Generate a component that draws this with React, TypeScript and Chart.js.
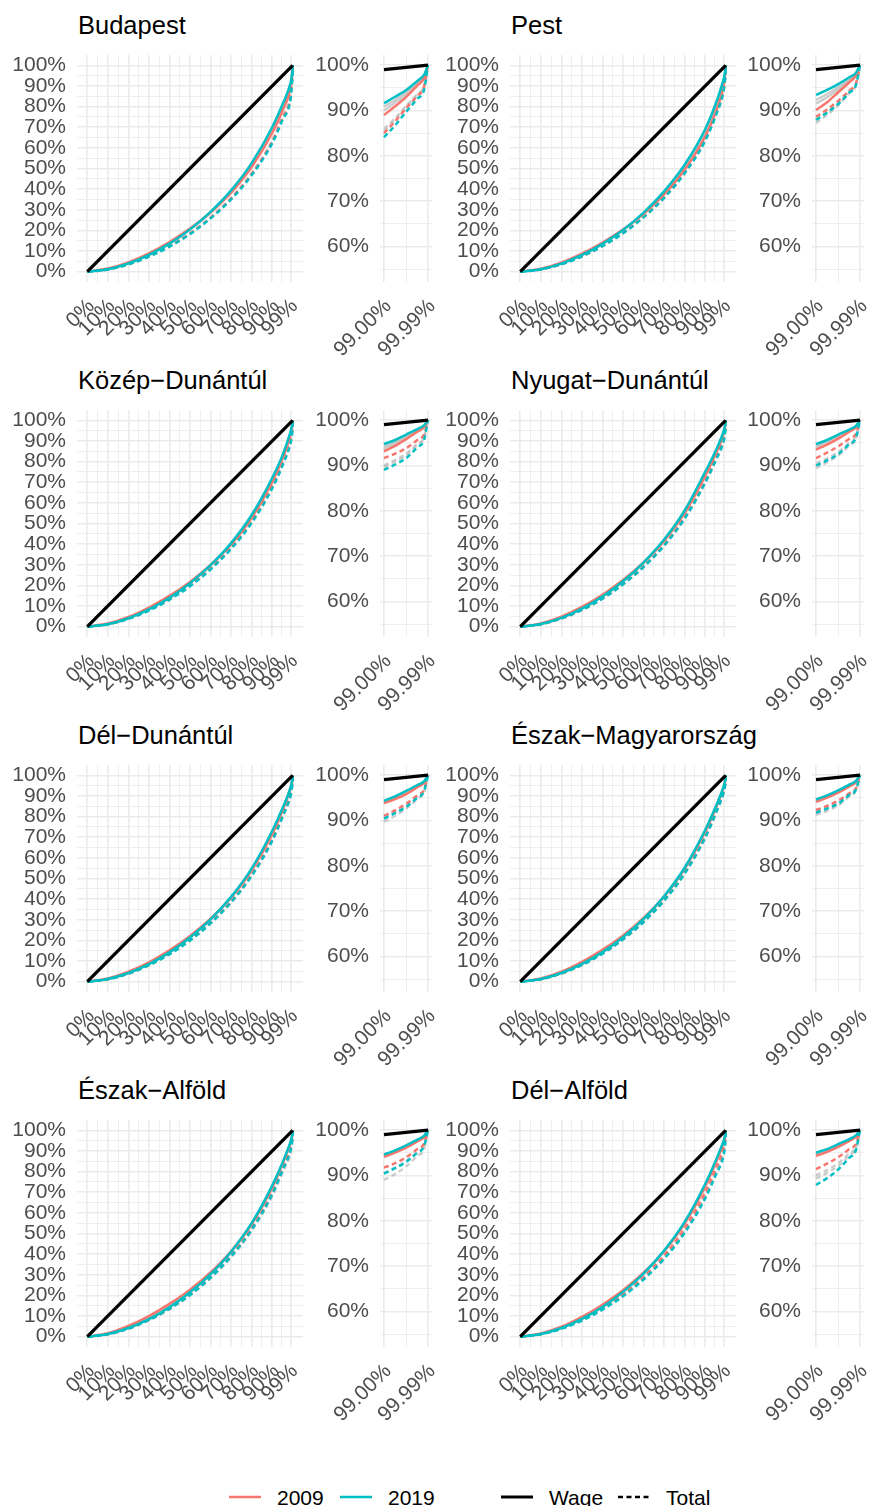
import React, { useEffect, useRef } from "react";
import { Chart, registerables } from "chart.js";

Chart.register(...registerables);

// ---------------- DATA ----------------
const REGIONS = [
  "Budapest",
  "Pest",
  "Közép−Dunántúl",
  "Nyugat−Dunántúl",
  "Dél−Dunántúl",
  "Észak−Magyarország",
  "Észak−Alföld",
  "Dél−Alföld",
];

// population share (x) at which every curve below is read
const PCT = [0, 0.1, 0.2, 0.3, 0.4, 0.5, 0.6, 0.7, 0.8, 0.9, 0.95, 0.99, 0.9925, 0.995, 0.9975, 0.999, 0.9999];

const WAGE_2009 = [
  [0, .015, .045, .089, .144, .209, .287, .383, .507, .672, .78, .890, .909, .930, .955, .971, 1],
  [0, .014, .044, .087, .141, .204, .280, .374, .494, .655, .77, .901, .918, .940, .962, .977, 1],
  [0, .015, .047, .093, .149, .217, .299, .399, .528, .70, .815, .931, .943, .958, .974, .984, 1],
  [0, .016, .049, .096, .155, .226, .311, .416, .550, .73, .835, .935, .946, .959, .974, .984, 1],
  [0, .015, .048, .094, .152, .222, .305, .408, .539, .715, .828, .938, .947, .958, .973, .983, 1],
  [0, .015, .048, .096, .154, .224, .309, .413, .547, .725, .838, .941, .950, .961, .975, .984, 1],
  [0, .017, .052, .100, .159, .228, .311, .414, .545, .722, .836, .941, .950, .961, .975, .984, 1],
  [0, .015, .048, .096, .155, .225, .310, .414, .548, .727, .84, .943, .952, .963, .976, .985, 1],
];

const WAGE_2019 = [
  [0, .012, .040, .082, .136, .205, .290, .394, .526, .70, .81, .916, .930, .945, .965, .978, 1],
  [0, .012, .039, .081, .135, .202, .286, .389, .518, .69, .81, .934, .945, .958, .973, .983, 1],
  [0, .012, .041, .084, .140, .211, .298, .405, .541, .72, .83, .947, .956, .968, .980, .988, 1],
  [0, .013, .043, .088, .146, .220, .311, .422, .563, .75, .85, .947, .956, .968, .979, .987, 1],
  [0, .013, .042, .085, .142, .214, .302, .411, .548, .73, .84, .943, .953, .965, .978, .986, 1],
  [0, .013, .042, .086, .143, .215, .304, .414, .552, .735, .845, .946, .955, .966, .979, .987, 1],
  [0, .013, .042, .085, .143, .215, .303, .412, .550, .732, .843, .946, .955, .966, .979, .987, 1],
  [0, .013, .042, .086, .144, .217, .306, .417, .556, .74, .85, .950, .958, .969, .980, .988, 1],
];

const TOTAL_2009 = [
  [0, .011, .036, .074, .123, .185, .261, .355, .473, .63, .745, .850, .876, .905, .932, .952, 1],
  [0, .011, .036, .075, .125, .188, .265, .360, .481, .64, .76, .886, .902, .921, .944, .960, 1],
  [0, .012, .039, .080, .134, .201, .284, .386, .514, .685, .80, .916, .926, .938, .956, .968, 1],
  [0, .012, .040, .082, .137, .207, .292, .397, .530, .705, .815, .916, .928, .942, .959, .970, 1],
  [0, .012, .039, .081, .135, .202, .286, .389, .518, .69, .805, .910, .922, .937, .955, .968, 1],
  [0, .012, .040, .082, .137, .206, .291, .396, .528, .703, .818, .923, .932, .944, .960, .971, 1],
  [0, .012, .040, .082, .136, .205, .290, .394, .526, .70, .815, .917, .927, .940, .958, .970, 1],
  [0, .012, .040, .081, .136, .205, .289, .393, .524, .698, .812, .914, .926, .940, .958, .970, 1],
];

const TOTAL_2019 = [
  [0, .011, .035, .073, .121, .182, .258, .350, .467, .622, .735, .841, .867, .897, .926, .945, 1],
  [0, .011, .036, .074, .124, .186, .263, .358, .477, .635, .752, .879, .895, .914, .939, .956, 1],
  [0, .012, .038, .078, .131, .196, .277, .377, .503, .67, .78, .890, .902, .916, .940, .956, 1],
  [0, .012, .040, .081, .136, .205, .289, .393, .524, .698, .803, .900, .911, .925, .947, .961, 1],
  [0, .012, .039, .080, .133, .200, .283, .385, .513, .683, .798, .904, .916, .930, .950, .964, 1],
  [0, .012, .040, .081, .136, .205, .289, .393, .524, .698, .812, .917, .926, .937, .956, .968, 1],
  [0, .012, .039, .081, .135, .202, .286, .389, .518, .69, .805, .904, .916, .930, .950, .964, 1],
  [0, .012, .038, .078, .131, .196, .277, .377, .503, .67, .78, .879, .894, .913, .939, .956, 1],
];

// two of the grey in-between years, per type
const GRAY_WAGE_A = [
  [0, .013, .042, .086, .140, .207, .288, .389, .516, .686, .795, .900, .917, .936, .958, .973, 1],
  [0, .013, .042, .084, .137, .203, .282, .380, .505, .671, .788, .915, .929, .946, .966, .979, 1],
  [0, .014, .044, .088, .145, .214, .298, .402, .534, .71, .822, .936, .948, .962, .976, .985, 1],
  [0, .014, .046, .092, .151, .223, .311, .419, .557, .74, .843, .940, .950, .963, .976, .985, 1],
  [0, .014, .045, .090, .147, .218, .303, .409, .543, .722, .834, .939, .949, .961, .975, .984, 1],
  [0, .014, .045, .091, .149, .220, .307, .413, .549, .73, .841, .943, .952, .963, .976, .985, 1],
  [0, .014, .045, .090, .148, .219, .305, .411, .546, .726, .839, .943, .952, .963, .976, .985, 1],
  [0, .014, .045, .091, .149, .220, .307, .415, .550, .732, .844, .944, .953, .964, .977, .986, 1],
];

const GRAY_WAGE_B = [
  [0, .012, .039, .081, .135, .203, .287, .390, .520, .693, .802, .908, .923, .941, .961, .975, 1],
  [0, .012, .039, .079, .133, .200, .282, .383, .511, .681, .80, .923, .936, .951, .969, .981, 1],
  [0, .012, .041, .083, .139, .210, .296, .403, .537, .715, .826, .941, .952, .965, .978, .987, 1],
  [0, .013, .042, .087, .145, .218, .308, .419, .560, .745, .847, .944, .954, .966, .978, .986, 1],
  [0, .012, .041, .085, .142, .213, .301, .409, .545, .726, .837, .941, .951, .963, .976, .985, 1],
  [0, .013, .042, .085, .143, .215, .303, .412, .550, .732, .843, .945, .954, .965, .978, .986, 1],
  [0, .013, .042, .085, .142, .214, .302, .410, .548, .729, .841, .945, .954, .965, .978, .986, 1],
  [0, .013, .042, .086, .143, .216, .305, .414, .553, .736, .847, .947, .956, .967, .979, .987, 1],
];

const GRAY_TOTAL_A = [
  [0, .011, .036, .074, .124, .187, .264, .359, .478, .637, .752, .860, .883, .910, .936, .954, 1],
  [0, .011, .036, .074, .124, .186, .263, .357, .476, .634, .752, .872, .890, .911, .938, .956, 1],
  [0, .012, .039, .079, .132, .198, .280, .381, .508, .677, .79, .900, .912, .926, .948, .962, 1],
  [0, .012, .040, .081, .136, .204, .288, .391, .522, .695, .80, .894, .907, .922, .944, .959, 1],
  [0, .012, .039, .079, .133, .199, .282, .383, .511, .68, .795, .897, .910, .926, .947, .962, 1],
  [0, .012, .040, .081, .136, .204, .288, .391, .522, .695, .808, .912, .921, .933, .953, .966, 1],
  [0, .012, .039, .079, .133, .199, .282, .383, .511, .68, .793, .890, .903, .920, .943, .958, 1],
  [0, .012, .039, .080, .133, .200, .283, .385, .513, .683, .797, .900, .912, .927, .949, .963, 1],
];

const GRAY_TOTAL_B = [
  [0, .011, .036, .074, .123, .185, .261, .355, .474, .631, .747, .855, .879, .908, .935, .953, 1],
  [0, .011, .036, .074, .124, .187, .264, .359, .479, .638, .757, .880, .897, .917, .942, .958, 1],
  [0, .012, .038, .079, .131, .198, .279, .380, .506, .674, .786, .896, .908, .922, .945, .960, 1],
  [0, .012, .040, .082, .137, .206, .291, .395, .527, .702, .81, .905, .916, .930, .950, .964, 1],
  [0, .012, .039, .080, .134, .202, .285, .387, .517, .688, .803, .908, .920, .934, .953, .966, 1],
  [0, .012, .040, .082, .137, .205, .290, .395, .527, .701, .815, .920, .929, .940, .957, .969, 1],
  [0, .012, .040, .081, .136, .204, .288, .391, .522, .695, .81, .905, .917, .932, .952, .965, 1],
  [0, .012, .039, .079, .133, .200, .282, .383, .511, .681, .795, .893, .906, .921, .944, .960, 1],
];

// tick breaks and labels
const MAIN_X_TICKS = [0, 0.1, 0.2, 0.3, 0.4, 0.5, 0.6, 0.7, 0.8, 0.9, 0.99];
const MAIN_X_LABELS = ["0%", "10%", "20%", "30%", "40%", "50%", "60%", "70%", "80%", "90%", "99%"];
const MAIN_Y_TICKS = [0, 0.1, 0.2, 0.3, 0.4, 0.5, 0.6, 0.7, 0.8, 0.9, 1];
const MAIN_Y_LABELS = ["0%", "10%", "20%", "30%", "40%", "50%", "60%", "70%", "80%", "90%", "100%"];
const INSET_X_TICKS = [0.99, 0.9999];
const INSET_X_LABELS = ["99.00%", "99.99%"];
const INSET_Y_TICKS = [0.6, 0.7, 0.8, 0.9, 1];
const INSET_Y_LABELS = ["60%", "70%", "80%", "90%", "100%"];

const LEGEND_YEARS = ["2009", "2019"];
const LEGEND_TYPES = ["Wage", "Total"];

// ---------------- STYLE ----------------
const RED = "#F8766D";
const TEAL = "#00BFC4";
const GRAY = "rgba(185,185,185,0.75)";
const GRID = "#EBEBEB";
const FONT = "'Liberation Sans', Arial, Helvetica, sans-serif";
const TICK_FONT = { family: FONT, size: 21 };
const TICK_COLOR = "#4D4D4D";
const DASH = [5, 3.5];

const ROW_H = 355;
const COL_W = 432.5;

function withMinor(majors: number[], extraLow?: number) {
  const mids = majors.slice(1).map((v, i) => (v + majors[i]) / 2);
  const all = majors.map((v) => ({ v, major: true })).concat(mids.map((v) => ({ v, major: false })));
  if (extraLow !== undefined) all.push({ v: extraLow, major: false });
  return all.sort((a, b) => a.v - b.v);
}

function makeAxis(
  majors: number[],
  labels: string[],
  min: number,
  max: number,
  isX: boolean,
  size: number,
  extraLow?: number
) {
  const all = withMinor(majors, extraLow);
  const isMajor = (v: number) => majors.some((m) => Math.abs(m - v) < 1e-9);
  return {
    type: "linear",
    min,
    max,
    afterBuildTicks: (s: any) => {
      s.ticks = all.map((t) => ({ value: t.v }));
    },
    afterFit: (s: any) => {
      if (isX) s.height = size;
      else s.width = size;
      s.paddingLeft = 0;
      s.paddingRight = 0;
      s.paddingTop = 0;
      s.paddingBottom = 0;
    },
    ticks: {
      autoSkip: false,
      maxRotation: isX ? 45 : 0,
      minRotation: isX ? 45 : 0,
      padding: isX ? 12 : 11,
      labelOffset: isX ? 4 : 0,
      color: TICK_COLOR,
      font: TICK_FONT,
      callback: (v: number) => {
        const i = majors.findIndex((m) => Math.abs(m - v) < 1e-9);
        return i >= 0 ? labels[i] : "";
      },
    },
    grid: {
      color: GRID,
      drawTicks: false,
      lineWidth: (ctx: any) => (ctx.tick && isMajor(ctx.tick.value) ? 1.6 : 0.8),
    },
    border: { display: false },
  };
}

function buildDatasets(r: number, inset: boolean) {
  const lo = inset ? INSET_X_TICKS[0] : PCT[0];
  const hi = PCT[PCT.length - 1];
  const pts = (vals: number[]) =>
    PCT.map((x, i) => ({ x, y: vals[i] })).filter((p) => p.x >= lo - 1e-9);
  const line = (vals: number[], color: string, dashed: boolean, width: number) => ({
    data: pts(vals),
    borderColor: color,
    backgroundColor: color,
    borderWidth: width,
    borderDash: dashed ? DASH : [],
    pointRadius: 0,
    fill: false,
    cubicInterpolationMode: "monotone",
  });
  return [
    {
      data: [
        { x: lo, y: lo },
        { x: hi, y: hi },
      ],
      borderColor: "#000000",
      borderWidth: 3.3,
      pointRadius: 0,
      fill: false,
    },
    line(WAGE_2019[r], TEAL, false, 2.5),
    line(TOTAL_2019[r], TEAL, true, 2.5),
    line(WAGE_2009[r], RED, false, 2.5),
    line(TOTAL_2009[r], RED, true, 2.5),
    line(GRAY_WAGE_A[r], GRAY, false, 2.3),
    line(GRAY_WAGE_B[r], GRAY, false, 2.3),
    line(GRAY_TOTAL_A[r], GRAY, true, 2.3),
    line(GRAY_TOTAL_B[r], GRAY, true, 2.3),
  ];
}

function PanelChart(props: { r: number; inset: boolean; left: number; top: number; width: number; height: number }) {
  const ref = useRef<HTMLCanvasElement | null>(null);
  const { r, inset, left, top, width, height } = props;
  useEffect(() => {
    if (!ref.current) return;
    const xAxis = inset
      ? makeAxis(INSET_X_TICKS, INSET_X_LABELS, 0.9891, 1.0008, true, 73)
      : makeAxis(MAIN_X_TICKS, MAIN_X_LABELS, -0.05, 1.05, true, 73);
    const yAxis = inset
      ? makeAxis(INSET_Y_TICKS, INSET_Y_LABELS, 0.5223, 1.022, false, 70, 0.55)
      : makeAxis(MAIN_Y_TICKS, MAIN_Y_LABELS, -0.05, 1.05, false, 77);
    const chart = new Chart(ref.current, {
      type: "line",
      data: { datasets: buildDatasets(r, inset) as any },
      options: {
        responsive: false,
        animation: false,
        devicePixelRatio: 1,
        layout: { autoPadding: false, padding: { top: 55, left: 0, right: inset ? 7 : 0, bottom: 0 } },
        plugins: { legend: { display: false }, tooltip: { enabled: false }, title: { display: false } },
        scales: { x: xAxis as any, y: yAxis as any },
      } as any,
    });
    return () => chart.destroy();
  }, [r, inset]);
  return (
    <canvas
      ref={ref}
      width={width}
      height={height}
      style={{ position: "absolute", left, top, width, height }}
    />
  );
}

export default function App() {
  const panels: React.ReactNode[] = [];
  REGIONS.forEach((name, r) => {
    const row = Math.floor(r / 2);
    const col = r % 2;
    const top = row * ROW_H;
    const colX = Math.round(col * COL_W);
    panels.push(
      <div
        key={"t" + r}
        style={{
          position: "absolute",
          left: 78 + colX,
          top: top + 13.4,
          fontFamily: FONT,
          fontSize: 25.5,
          lineHeight: "25.5px",
          color: "#000",
          whiteSpace: "nowrap",
        }}
      >
        {name}
      </div>
    );
    panels.push(<PanelChart key={"m" + r} r={r} inset={false} left={colX} top={top} width={303} height={ROW_H} />);
    panels.push(
      <PanelChart key={"i" + r} r={r} inset={true} left={310 + (col ? 432 : 0)} top={top} width={129} height={ROW_H} />
    );
  });

  const legendText = (t: string, x: number) => (
    <div
      key={t}
      style={{
        position: "absolute",
        left: x,
        top: 1487.2,
        fontFamily: FONT,
        fontSize: 21,
        lineHeight: "21px",
        color: "#000",
        whiteSpace: "nowrap",
      }}
    >
      {t}
    </div>
  );

  return (
    <div
      style={{
        position: "absolute",
        left: 0,
        top: 0,
        width: 871,
        height: 1506,
        overflow: "hidden",
        background: "#FFFFFF",
      }}
    >
      {panels}
      <svg
        style={{ position: "absolute", left: 0, top: 1485 }}
        width={871}
        height={21}
        viewBox="0 0 871 21"
      >
        <line x1={229} x2={261} y1={12} y2={12} stroke={RED} strokeWidth={2.5} />
        <line x1={340} x2={372} y1={12} y2={12} stroke={TEAL} strokeWidth={2.5} />
        <line x1={501} x2={533} y1={12} y2={12} stroke="#000" strokeWidth={3} />
        <line x1={618} x2={651} y1={12} y2={12} stroke="#000" strokeWidth={2.5} strokeDasharray="5 3.5" />
      </svg>
      {legendText(LEGEND_YEARS[0], 277)}
      {legendText(LEGEND_YEARS[1], 388)}
      {legendText(LEGEND_TYPES[0], 549)}
      {legendText(LEGEND_TYPES[1], 666)}
    </div>
  );
}
